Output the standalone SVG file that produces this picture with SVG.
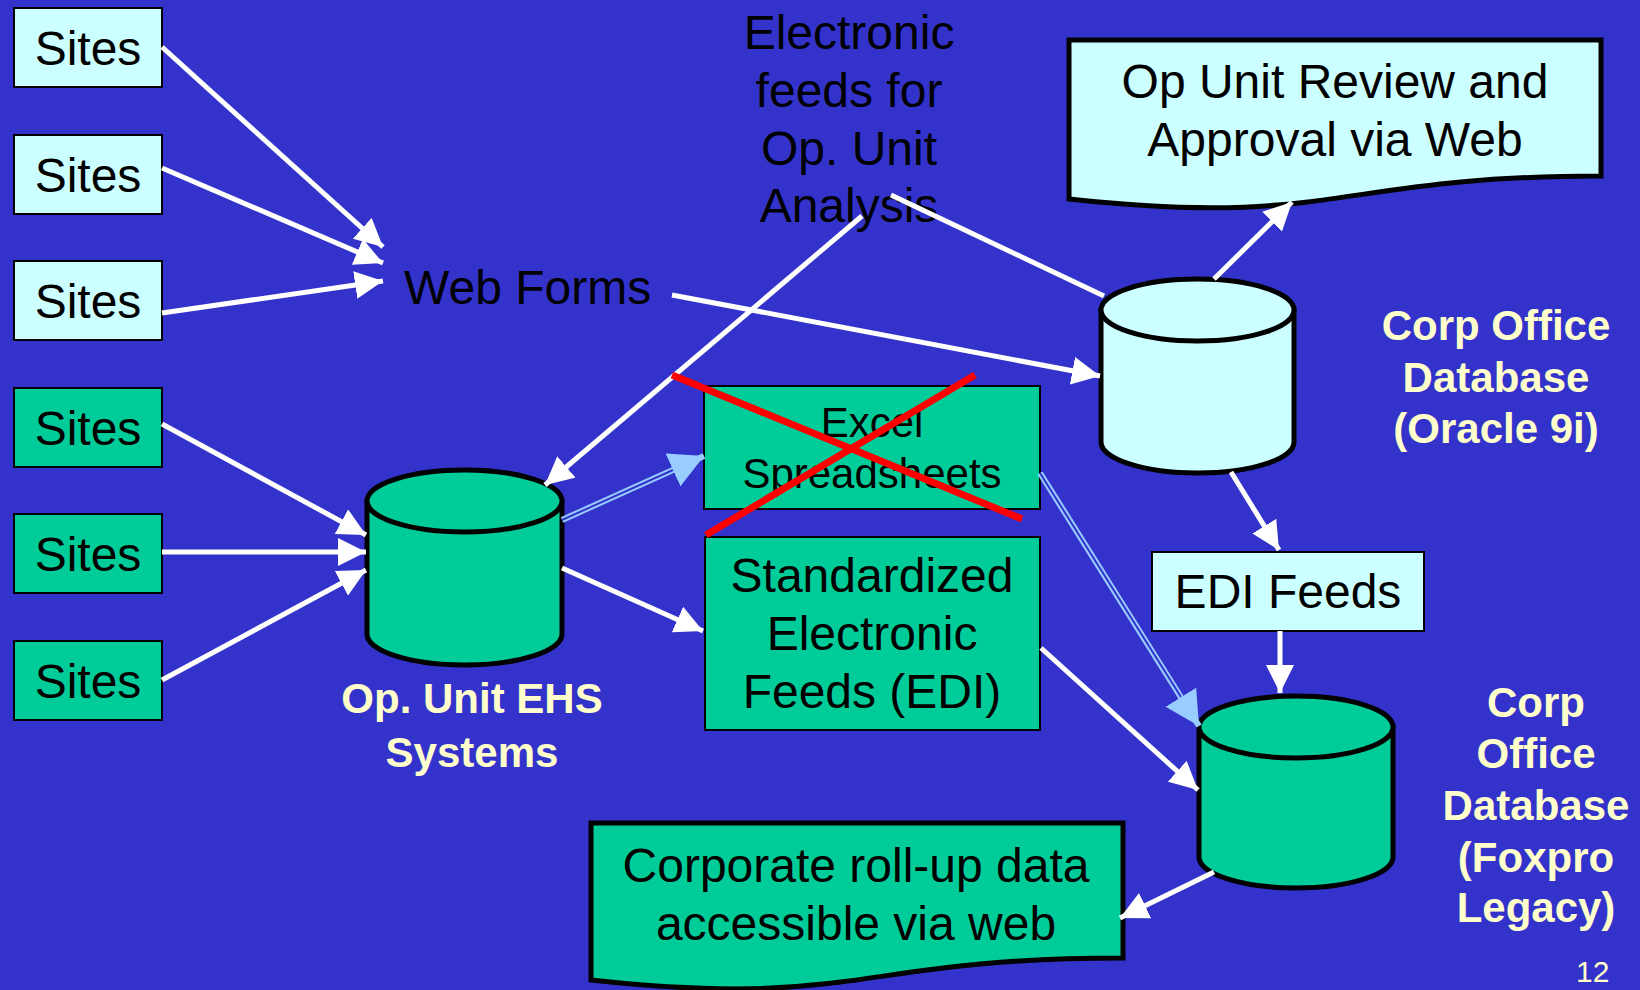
<svg xmlns="http://www.w3.org/2000/svg" width="1640" height="990" viewBox="0 0 1640 990">
<defs>
<style>
.box{stroke:#000;stroke-width:2}
.cyan{fill:#CCFFFF}
.green{fill:#00CC99}
.thick{stroke:#000;stroke-width:5}
.t{font-family:"Liberation Sans",Arial,sans-serif;fill:#000;text-anchor:middle}
.t48{font-size:48px}
.t42{font-size:42px}
.lbl{font-family:"Liberation Sans",Arial,sans-serif;font-weight:bold;font-size:42px;fill:#FFFFCC;text-anchor:middle}
.c{stroke:#fff;stroke-width:5;fill:none;marker-end:url(#wa)}
.plain{stroke:#fff;stroke-width:5;fill:none}
.dbl{stroke:#99CCFF;stroke-width:6;fill:none;marker-end:url(#ba)}
.dblin{stroke:#3333CC;stroke-width:2;fill:none}
.red{stroke:#FF0000;stroke-width:7}
</style>
<marker id="wa" markerUnits="userSpaceOnUse" markerWidth="28" markerHeight="28" refX="28" refY="14" orient="auto" viewBox="0 0 28 28"><path d="M0,0 L28,14 L0,28 Z" fill="#fff"/></marker>
<marker id="ba" markerUnits="userSpaceOnUse" markerWidth="34" markerHeight="36" refX="34" refY="18" orient="auto" viewBox="0 0 34 36"><path d="M0,0 L34,18 L0,36 Z" fill="#99CCFF"/></marker>
</defs>
<rect x="0" y="0" width="1640" height="990" fill="#3333CC"/>

<g id="sites1"><rect class="box cyan" x="14" y="8" width="148" height="79"/><text class="t t48" x="88" y="65">Sites</text></g>
<g id="sites2"><rect class="box cyan" x="14" y="135" width="148" height="79"/><text class="t t48" x="88" y="192">Sites</text></g>
<g id="sites3"><rect class="box cyan" x="14" y="261" width="148" height="79"/><text class="t t48" x="88" y="318">Sites</text></g>
<g id="sites4"><rect class="box green" x="14" y="388" width="148" height="79"/><text class="t t48" x="88" y="445">Sites</text></g>
<g id="sites5"><rect class="box green" x="14" y="514" width="148" height="79"/><text class="t t48" x="88" y="571">Sites</text></g>
<g id="sites6"><rect class="box green" x="14" y="641" width="148" height="79"/><text class="t t48" x="88" y="698">Sites</text></g>

<g id="webforms"><text class="t t48" x="404" y="304" style="text-anchor:start">Web Forms</text></g>

<g id="feedslabel"><text class="t t48" x="849" y="49">Electronic</text><text class="t t48" x="849" y="107">feeds for</text><text class="t t48" x="849" y="165">Op. Unit</text><text class="t t48" x="849" y="222">Analysis</text></g>

<g id="opunitreview"><path class="cyan thick" d="M1069,40 H1601 V176 C1335,176 1335,228 1069,199 Z"/><text class="t t48" x="1335" y="98">Op Unit Review and</text><text class="t t48" x="1335" y="156">Approval via Web</text></g>

<g id="oracle"><path class="cyan thick" d="M1101,310 V442 A96.5,31 0 0 0 1294,442 V310 Z"/><ellipse class="cyan thick" cx="1197.5" cy="310" rx="96.5" ry="31"/><text class="lbl" x="1496" y="340">Corp Office</text><text class="lbl" x="1496" y="392">Database</text><text class="lbl" x="1496" y="443">(Oracle 9i)</text></g>

<g id="ehs"><path class="green thick" d="M367,501 V634 A97.5,31 0 0 0 562,634 V501 Z"/><ellipse class="green thick" cx="464.5" cy="501" rx="97.5" ry="31"/><text class="lbl" x="472" y="713">Op. Unit EHS</text><text class="lbl" x="472" y="767">Systems</text></g>

<g id="excel"><rect class="box green" x="704" y="386" width="336" height="123"/><text class="t t42" x="872" y="437">Excel</text><text class="t t42" x="872" y="488">Spreadsheets</text></g>

<g id="edi"><rect class="box green" x="705" y="537" width="335" height="193"/><text class="t t48" x="872" y="592">Standardized</text><text class="t t48" x="872" y="650">Electronic</text><text class="t t48" x="872" y="708">Feeds (EDI)</text></g>

<g id="edifeeds"><rect class="box cyan" x="1152" y="552" width="272" height="79"/><text class="t t48" x="1288" y="608">EDI Feeds</text></g>

<g id="foxpro"><path class="green thick" d="M1199,727 V857 A97,31 0 0 0 1393,857 V727 Z"/><ellipse class="green thick" cx="1296" cy="727" rx="97" ry="31"/><text class="lbl" x="1536" y="717">Corp</text><text class="lbl" x="1536" y="768">Office</text><text class="lbl" x="1536" y="820">Database</text><text class="lbl" x="1536" y="872">(Foxpro</text><text class="lbl" x="1536" y="922">Legacy)</text></g>

<g id="rollup"><path class="green thick" d="M591,823 H1123 V958 C857,958 857,1009 591,980 Z"/><text class="t t48" x="856" y="882">Corporate roll-up data</text><text class="t t48" x="856" y="940">accessible via web</text></g>

<g id="connectors">
<line class="c" x1="162" y1="47" x2="383" y2="247"/>
<line class="c" x1="162" y1="168" x2="383" y2="263"/>
<line class="c" x1="162" y1="313" x2="383" y2="281"/>
<line class="c" x1="162" y1="424" x2="366" y2="535"/>
<line class="c" x1="162" y1="552" x2="366" y2="552"/>
<line class="c" x1="162" y1="680" x2="366" y2="570"/>
<line class="c" x1="672" y1="295" x2="1100" y2="376"/>
<line class="c" x1="1214" y1="279" x2="1292" y2="202"/>
<line class="plain" x1="1104" y1="296" x2="891" y2="195"/>
<line class="c" x1="862" y1="216" x2="545" y2="485"/>
<line class="dbl" x1="562" y1="520" x2="704" y2="456"/>
<line class="dblin" x1="562" y1="520" x2="673" y2="470"/>
<line class="dbl" x1="1040" y1="473" x2="1199" y2="726"/>
<line class="dblin" x1="1040" y1="473" x2="1181" y2="697"/>
<line class="c" x1="562" y1="568" x2="703" y2="631"/>
<line class="c" x1="1041" y1="648" x2="1198" y2="790"/>
<line class="c" x1="1231" y1="472" x2="1279" y2="550"/>
<line class="c" x1="1280" y1="631" x2="1280" y2="693"/>
<line class="c" x1="1214" y1="872" x2="1120" y2="918"/>
</g>

<g id="crossout">
<line class="red" x1="672" y1="375" x2="1022" y2="519"/>
<line class="red" x1="975" y1="375" x2="706" y2="535"/>
</g>

<text x="1576" y="982" style="font-family:'Liberation Sans',Arial,sans-serif;font-size:30px;fill:#FFFFCC">12</text>
</svg>
